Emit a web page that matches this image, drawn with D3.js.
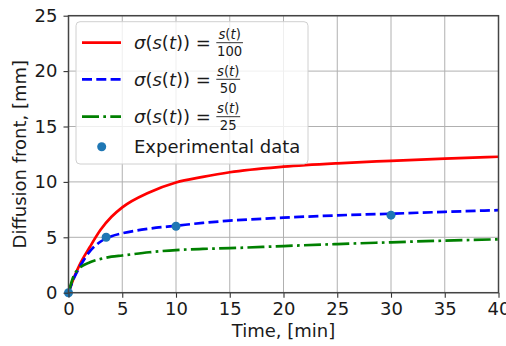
<!DOCTYPE html>
<html>
<head>
<meta charset="utf-8">
<script src="https://cdn.jsdelivr.net/npm/d3@7"></script>
<style>
  body { margin: 0; background: #fff; }
  text { font-family: "DejaVu Sans", sans-serif; fill: #1a1a1a; }
</style>
</head>
<body>
<div id="chart"></div>
<script>
// time samples [min]
const time = [0, 0.5, 1, 2, 3, 4, 5, 7.5, 10, 12.5, 15, 20, 25, 30, 35, 40];
// sigma = s(t)/100
const front100 = [0, 1.35, 2.45, 4.15, 5.7, 6.85, 7.7, 9.05, 9.95, 10.45, 10.87, 11.37, 11.68, 11.9, 12.1, 12.27];
// sigma = s(t)/50
const front50 = [0, 1.3, 2.25, 3.75, 4.62, 5.1, 5.36, 5.78, 6.04, 6.3, 6.5, 6.77, 6.98, 7.13, 7.3, 7.45];
// sigma = s(t)/25
const front25 = [0, 1.55, 2.2, 2.75, 3.05, 3.25, 3.36, 3.65, 3.85, 3.95, 4.02, 4.21, 4.39, 4.55, 4.7, 4.82];
// experimental points
const expTime = [0, 3.5, 10, 30];
const expFront = [0, 5.0, 6.0, 7.0];

const xTicks = [0, 5, 10, 15, 20, 25, 30, 35, 40];
const yTicks = [0, 5, 10, 15, 20, 25];

const W = 506, H = 346;
const margin = {top: 15.7, right: 7.5, bottom: 53.3, left: 68.5};
const w = W - margin.left - margin.right;
const h = H - margin.top - margin.bottom;

const svg = d3.select('#chart').append('svg').attr('width', W).attr('height', H);
const g = svg.append('g').attr('transform', 'translate(' + margin.left + ',' + margin.top + ')');

const x = d3.scaleLinear().domain([0, 40]).range([0, w]);
const y = d3.scaleLinear().domain([0, 25]).range([h, 0]);

// grid
g.append('g').selectAll('line').data(xTicks).enter().append('line')
  .attr('x1', d => x(d)).attr('x2', d => x(d)).attr('y1', 0).attr('y2', h)
  .attr('stroke', '#b0b0b0').attr('stroke-width', 1);
g.append('g').selectAll('line').data(yTicks).enter().append('line')
  .attr('y1', d => y(d)).attr('y2', d => y(d)).attr('x1', 0).attr('x2', w)
  .attr('stroke', '#b0b0b0').attr('stroke-width', 1);

// curves
const series = [
  {vals: front100, color: '#ff0000', dash: null},
  {vals: front50, color: '#0000ff', dash: '10,4.3'},
  {vals: front25, color: '#008000', dash: '17,4.3,2.7,4.3'}
];
const line = d3.line().curve(d3.curveMonotoneX).x(d => x(d[0])).y(d => y(d[1]));
series.forEach(s => {
  g.append('path')
    .datum(time.map((t, i) => [t, s.vals[i]]))
    .attr('d', line)
    .attr('fill', 'none')
    .attr('stroke', s.color)
    .attr('stroke-width', 2.7)
    .attr('stroke-dasharray', s.dash);
});

// experimental dots
g.append('g').selectAll('circle').data(expTime).enter().append('circle')
  .attr('cx', d => x(d)).attr('cy', (d, i) => y(expFront[i]))
  .attr('r', 4.5).attr('fill', '#1f77b4');

// axes
const xAxis = g.append('g').attr('transform', 'translate(0,' + h + ')')
  .call(d3.axisBottom(x).tickValues(xTicks).tickSize(5).tickPadding(5));
const yAxis = g.append('g')
  .call(d3.axisLeft(y).tickValues(yTicks).tickSize(5).tickPadding(6));
[xAxis, yAxis].forEach(a => {
  a.select('.domain').remove();
  a.selectAll('.tick line').attr('stroke', '#333').attr('stroke-width', 1.1);
  a.selectAll('.tick text').attr('font-size', 18).attr('font-family', '"DejaVu Sans", sans-serif').attr('fill', '#1a1a1a');
});

// spines
g.append('rect').attr('x', 0).attr('y', 0).attr('width', w).attr('height', h)
  .attr('fill', 'none').attr('stroke', '#444').attr('stroke-width', 1.5);

// labels
svg.append('text').attr('x', margin.left + w / 2).attr('y', 337)
  .attr('text-anchor', 'middle').attr('font-size', 18).text('Time, [min]');
svg.append('text')
  .attr('transform', 'translate(26,' + (margin.top + h / 2) + ') rotate(-90)')
  .attr('text-anchor', 'middle').attr('font-size', 18).text('Diffusion front, [mm]');

// legend
const lg = svg.append('g');
lg.append('rect').attr('x', 76).attr('y', 21.7).attr('width', 232).attr('height', 142.3)
  .attr('rx', 4).attr('fill', '#fff').attr('fill-opacity', 0.8)
  .attr('stroke', '#d0d0d0').attr('stroke-width', 1);

const denoms = ['100', '50', '25'];
const rowY = [42.7, 79.3, 116.7];
series.forEach((s, i) => {
  const cy = rowY[i];
  lg.append('line').attr('x1', 82).attr('x2', 121).attr('y1', cy).attr('y2', cy)
    .attr('stroke', s.color).attr('stroke-width', 2.7).attr('stroke-dasharray', s.dash);
  const t = lg.append('text').attr('x', 134).attr('y', cy + 6.3).attr('font-size', 18);
  t.append('tspan').attr('font-style', 'italic').text('σ');
  t.append('tspan').text('(');
  t.append('tspan').attr('font-style', 'italic').text('s');
  t.append('tspan').text('(');
  t.append('tspan').attr('font-style', 'italic').text('t');
  t.append('tspan').text(')) =');
  const tw = t.node().getComputedTextLength();
  const fx = 134 + tw + 5.5;
  const num = lg.append('text').attr('y', cy - 3.5).attr('font-size', 13.2).attr('text-anchor', 'middle');
  num.append('tspan').attr('font-style', 'italic').text('s');
  num.append('tspan').text('(');
  num.append('tspan').attr('font-style', 'italic').text('t');
  num.append('tspan').text(')');
  const den = lg.append('text').attr('y', cy + 13.5).attr('font-size', 13.2).attr('text-anchor', 'middle').text(denoms[i]);
  const fw = Math.max(num.node().getComputedTextLength(), den.node().getComputedTextLength()) + 1.5;
  num.attr('x', fx + fw / 2);
  den.attr('x', fx + fw / 2);
  lg.append('line').attr('x1', fx).attr('x2', fx + fw).attr('y1', cy).attr('y2', cy)
    .attr('stroke', '#1a1a1a').attr('stroke-width', 0.9);
});
lg.append('circle').attr('cx', 101.7).attr('cy', 146.7).attr('r', 4.5).attr('fill', '#1f77b4');
lg.append('text').attr('x', 134).attr('y', 153.3).attr('font-size', 18).text('Experimental data');
</script>
</body>
</html>
